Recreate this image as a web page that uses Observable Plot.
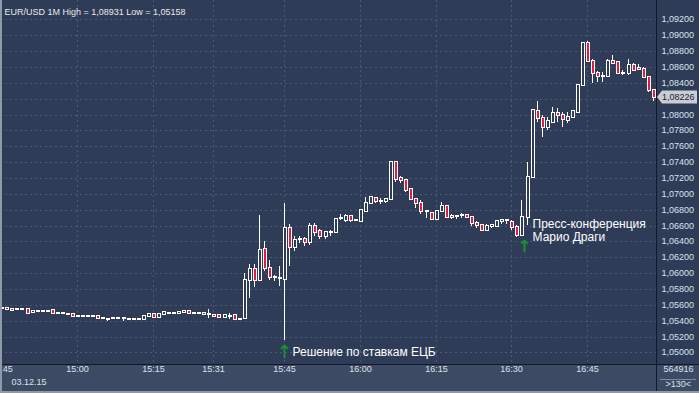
<!DOCTYPE html>
<html><head><meta charset="utf-8">
<script src="https://cdn.jsdelivr.net/npm/d3@7"></script>
<script src="https://cdn.jsdelivr.net/npm/@observablehq/plot@0.6"></script>
<style>
html,body{margin:0;padding:0;background:#2f3c57;overflow:hidden}
#wrap{position:relative;width:699px;height:393px}
#border{position:absolute;left:0;top:0;width:699px;height:393px;box-shadow:inset 2px -2px 0 #8f99a8;pointer-events:none}
</style></head><body><div id="wrap"><div id="border"></div></div>
<script>
// OHLC per 1-minute candle (index 0 = 14:45)
const open  = [1.05557,1.05552,1.05544,1.05544,1.05544,1.05544,1.05511,1.05519,1.05519,1.05522,1.05536,1.05502,1.05494,1.05487,1.05485,1.05456,1.05460,1.05462,1.05460,1.05460,1.05435,1.05426,1.05431,1.05439,1.05437,1.05428,1.05420,1.05418,1.05418,1.05456,1.05485,1.05447,1.05481,1.05502,1.05496,1.05496,1.05515,1.05523,1.05500,1.05504,1.05492,1.05489,1.05470,1.05477,1.05452,1.05462,1.05477,1.05426,1.05429,1.05918,1.06053,1.05918,1.06304,1.06066,1.05955,1.05940,1.05927,1.06568,1.06330,1.06427,1.06430,1.06388,1.06598,1.06526,1.06472,1.06514,1.06514,1.06690,1.06673,1.06723,1.06669,1.06660,1.06790,1.06883,1.06945,1.06908,1.06910,1.06939,1.07401,1.07199,1.07170,1.07057,1.06939,1.06889,1.06784,1.06758,1.06687,1.06779,1.06842,1.06716,1.06725,1.06729,1.06729,1.06708,1.06637,1.06603,1.06540,1.06600,1.06595,1.06662,1.06666,1.06650,1.06587,1.06482,1.06714,1.07217,1.08050,1.07953,1.07848,1.07911,1.08016,1.07995,1.07932,1.07966,1.08037,1.08372,1.08897,1.08679,1.08528,1.08490,1.08486,1.08679,1.08658,1.08528,1.08519,1.08620,1.08582,1.08570,1.08477,1.08309];
const high  = [1.05558,1.05575,1.05548,1.05556,1.05546,1.05548,1.05522,1.05522,1.05530,1.05540,1.05538,1.05505,1.05497,1.05489,1.05490,1.05468,1.05470,1.05470,1.05468,1.05468,1.05440,1.05428,1.05434,1.05441,1.05439,1.05430,1.05422,1.05424,1.05458,1.05502,1.05490,1.05487,1.05515,1.05515,1.05502,1.05511,1.05530,1.05527,1.05511,1.05511,1.05494,1.05544,1.05472,1.05481,1.05474,1.05494,1.05481,1.05428,1.06006,1.06120,1.06120,1.06736,1.06401,1.06162,1.05982,1.06087,1.06883,1.06619,1.06463,1.06463,1.06451,1.06631,1.06631,1.06556,1.06526,1.06539,1.06694,1.06749,1.06749,1.06736,1.06682,1.06799,1.06966,1.06966,1.06966,1.06952,1.06952,1.07401,1.07401,1.07220,1.07178,1.07065,1.06948,1.06918,1.06800,1.06766,1.06784,1.06897,1.06851,1.06750,1.06737,1.06754,1.06737,1.06721,1.06653,1.06616,1.06624,1.06624,1.06674,1.06674,1.06683,1.06671,1.06608,1.06924,1.07406,1.08058,1.08175,1.07995,1.07974,1.08091,1.08079,1.08037,1.08037,1.08058,1.08372,1.08905,1.08931,1.08696,1.08553,1.08540,1.08696,1.08750,1.08666,1.08561,1.08696,1.08645,1.08633,1.08595,1.08477,1.08309];
const low   = [1.05556,1.05550,1.05525,1.05535,1.05542,1.05500,1.05508,1.05515,1.05508,1.05505,1.05481,1.05497,1.05490,1.05483,1.05458,1.05452,1.05450,1.05452,1.05450,1.05428,1.05426,1.05401,1.05428,1.05434,1.05392,1.05420,1.05414,1.05414,1.05416,1.05454,1.05445,1.05445,1.05479,1.05494,1.05485,1.05490,1.05508,1.05490,1.05494,1.05494,1.05485,1.05431,1.05462,1.05441,1.05450,1.05418,1.05410,1.05418,1.05424,1.05688,1.05826,1.05918,1.06024,1.05918,1.05898,1.05835,1.05158,1.06087,1.06275,1.06380,1.06346,1.06359,1.06463,1.06430,1.06430,1.06463,1.06505,1.06673,1.06644,1.06644,1.06652,1.06644,1.06778,1.06874,1.06883,1.06876,1.06884,1.06930,1.07149,1.07136,1.07023,1.06930,1.06826,1.06750,1.06700,1.06683,1.06683,1.06771,1.06695,1.06687,1.06679,1.06695,1.06700,1.06590,1.06569,1.06540,1.06527,1.06574,1.06582,1.06624,1.06624,1.06545,1.06453,1.06470,1.06608,1.07200,1.07911,1.07722,1.07806,1.07890,1.07911,1.07840,1.07898,1.07953,1.08024,1.08372,1.08679,1.08402,1.08414,1.08414,1.08477,1.08645,1.08511,1.08498,1.08498,1.08553,1.08561,1.08469,1.08288,1.08175];
const close = [1.05557,1.05565,1.05542,1.05544,1.05544,1.05502,1.05520,1.05517,1.05519,1.05527,1.05502,1.05500,1.05494,1.05485,1.05460,1.05466,1.05460,1.05462,1.05460,1.05431,1.05435,1.05426,1.05431,1.05437,1.05430,1.05424,1.05418,1.05420,1.05456,1.05489,1.05447,1.05485,1.05511,1.05504,1.05494,1.05506,1.05519,1.05494,1.05502,1.05502,1.05487,1.05487,1.05466,1.05443,1.05472,1.05466,1.05418,1.05424,1.05914,1.06053,1.05918,1.06296,1.06066,1.05953,1.05953,1.05940,1.06568,1.06330,1.06422,1.06430,1.06388,1.06598,1.06514,1.06463,1.06514,1.06518,1.06686,1.06690,1.06723,1.06673,1.06665,1.06799,1.06883,1.06958,1.06904,1.06910,1.06939,1.07401,1.07183,1.07170,1.07044,1.06939,1.06889,1.06779,1.06784,1.06687,1.06779,1.06842,1.06708,1.06712,1.06725,1.06735,1.06708,1.06637,1.06603,1.06548,1.06590,1.06605,1.06658,1.06666,1.06670,1.06587,1.06482,1.06714,1.07217,1.08058,1.07953,1.07848,1.07919,1.08016,1.07991,1.07940,1.07966,1.08045,1.08372,1.08897,1.08679,1.08519,1.08486,1.08486,1.08679,1.08654,1.08519,1.08524,1.08624,1.08561,1.08578,1.08477,1.08309,1.08226];

// Axis ticks
const yTickValues = [1.050,1.052,1.054,1.056,1.058,1.060,1.062,1.064,1.066,1.068,1.070,1.072,1.074,1.076,1.078,1.080,1.082,1.084,1.086,1.088,1.090,1.092];
const xTickIndex  = [0,15,30,42,56,71,86,101,116];
const xTickLabels = ["14:45","15:00","15:15","15:31","15:45","16:00","16:15","16:30","16:45"];
const dateLabel = "03.12.15";
const titleText = "EUR/USD 1M High = 1,08931 Low = 1,05158";
const volumeText = "564916";
const countText = ">130<";

// Annotations
const annotIndex = [56, 103.6];
const annotLabels = ["Решение по ставкам ЕЦБ", "Пресс-конференция\nМарио Драги"];
const annotTextY = [1.05013, 1.06544];
const annotArrowFrom = [1.04943, 1.06279];
const annotArrowTo = [1.05095, 1.06412];

const fmt = d => d.toFixed(5).replace(".", ",");
const candles = open.map((o, i) => ({i, o, h: high[i], l: low[i], c: close[i]}));
const xTicks = xTickIndex.map((i, k) => ({i, label: xTickLabels[k]}));
const annots = annotIndex.map((i, k) => ({i, label: annotLabels[k], y: annotTextY[k], from: annotArrowFrom[k], to: annotArrowTo[k]}));
const last = close[close.length - 1];
// the current-price tag covers the tick label nearest to it
const yLabelValues = yTickValues.filter(v => Math.abs(v - last) > 0.0005);

const BG = "#2f3c57";
const GRID = "#4b5976";
const TXT = "#dce2ec";

const plot = Plot.plot({
  width: 699, height: 393,
  marginLeft: 0, marginRight: 43, marginTop: 0, marginBottom: 29,
  x: {domain: [-0.257, 129.64], axis: null, round: true},
  y: {domain: [1.04855, 1.09444], axis: null, round: true},
  color: {type: "identity"},
  style: `background: linear-gradient(to right, transparent 656px, #131926 656px, #131926 657px, transparent 657px), linear-gradient(to bottom, transparent 364px, #131926 364px, #131926 365px, transparent 365px), linear-gradient(to bottom, ${BG} 364px, #3c4a64 364px); font-family: 'Liberation Sans', Arial, sans-serif; color: ${TXT};`,
  marks: [
    Plot.ruleY(yTickValues, {y: d => d, stroke: GRID, strokeDasharray: "2,3"}),
    Plot.ruleX(xTicks, {x: "i", stroke: GRID, strokeDasharray: "2,3"}),
    Plot.ruleX(candles, {x: "i", y1: "l", y2: "h", stroke: "#ffffff", strokeWidth: 1, shapeRendering: "crispEdges"}),
    Plot.rect(candles, {
      x1: "i", x2: "i", y1: "o", y2: "c",
      insetLeft: -1, insetRight: -2, insetTop: -1, insetBottom: 0,
      fill: d => d.c < d.o ? "#e31b3d" : BG, stroke: "#ffffff", strokeWidth: 1,
      shapeRendering: "crispEdges"
    }),
    Plot.text(yLabelValues, {y: d => d, frameAnchor: "right", dx: 5, textAnchor: "start", text: fmt, fontSize: 9, fill: TXT}),
    Plot.text(xTicks, {x: "i", frameAnchor: "bottom", dy: 7.5, text: "label", fontSize: 9, fill: TXT}),
    Plot.text([dateLabel], {frameAnchor: "bottom-left", dx: 11, dy: 20, textAnchor: "start", text: d => d, fontSize: 9, fill: TXT}),
    Plot.text([titleText], {frameAnchor: "top-left", dx: 4, dy: 8, textAnchor: "start", text: d => d, fontSize: 9, fill: "#e8e8ea"}),
    Plot.text([volumeText], {frameAnchor: "bottom-right", dx: 7, dy: 7.5, textAnchor: "start", text: d => d, fontSize: 9, fill: TXT}),
    Plot.text([countText], {frameAnchor: "bottom-right", dx: 9, dy: 22.5, textAnchor: "start", text: d => d, fontSize: 9, fill: TXT}),
    Plot.arrow(annots, {x1: "i", x2: "i", y1: "from", y2: "to", stroke: "#17922c", strokeWidth: 2, headLength: 5, headAngle: 90}),
    Plot.text(annots, {x: "i", y: "y", text: "label", textAnchor: "start", dx: 8, fontSize: 12, lineHeight: 1.06, fill: "#ffffff"})
  ]
});

document.getElementById("wrap").prepend(plot);

// Current-price tag on the right axis, positioned through the y scale
const svg = d3.select(plot);
const yy = plot.scale("y").apply(last);
const g = svg.append("g");
g.append("path").attr("d", `M657,${yy} L662,${yy - 6.5} H697 V${yy + 6.5} H662 Z`).attr("fill", "#c9cdd4");
g.append("text").attr("x", 662).attr("y", yy).attr("dy", "0.35em").attr("text-anchor", "start")
  .attr("font-size", 9).attr("fill", "#1b2233").text(fmt(last));
svg.append("line").attr("x1", 660).attr("x2", 696).attr("y1", 379.5).attr("y2", 379.5).attr("stroke", "#7f8aa0");
</script>
</body></html>
